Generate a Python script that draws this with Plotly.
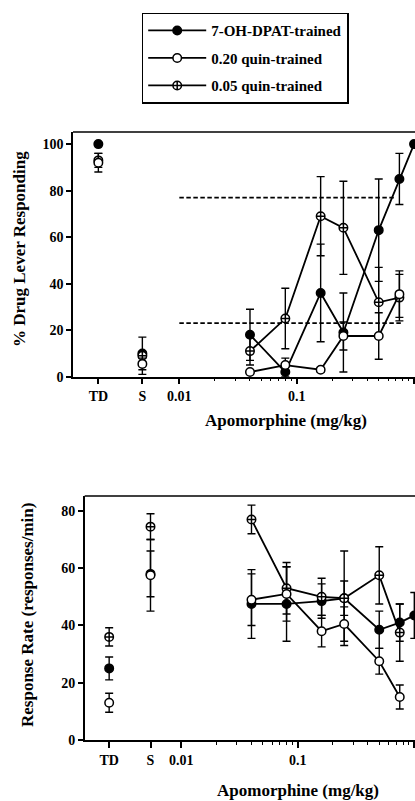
import plotly.graph_objects as go

# ---------------- data ----------------
doses = [0.04, 0.08, 0.16, 0.25, 0.5, 0.75, 1.0]
quin_doses = [0.04, 0.08, 0.16, 0.25, 0.5, 0.75]
control_labels = ["TD", "S"]

# % drug lever responding
dpat_ctrl_pct = [100, 10]
dpat_ctrl_pct_err = [0, 0]
dpat_pct = [18, 2, 36, 19, 63, 85, 100]
dpat_pct_err = [11, 2, 21, 17, 22, 11, 0]

q20_ctrl_pct = [92, 5.5]
q20_ctrl_pct_err = [4, 2.5]
q20_pct = [2, 5, 3, 17.5, 17.5, 35.5]
q20_pct_err = [1, 3, 1, 6, 10, 10]

q05_ctrl_pct = [93, 9]
q05_ctrl_pct_err = [3, 8]
q05_pct = [11, 25, 69, 64, 32, 34]
q05_pct_err = [6, 13, 17, 20, 15, 10]

criteria_pct = [77, 23]
criteria_x = [[0.01, 0.7], [0.01, 0.8]]

# response rate (responses/min)
dpat_ctrl_rate = [25, 58]
dpat_ctrl_rate_err = [4, 8]
dpat_rate = [47.5, 47.5, 48.5, 49.5, 38.5, 41, 43.5]
dpat_rate_err = [12, 13, 6, 6, 6.5, 6.5, 8]

q20_ctrl_rate = [13, 57.5]
q20_ctrl_rate_err = [3.3, 12.5]
q20_rate = [49, 51, 38, 40.5, 27.5, 15]
q20_rate_err = [9, 9.5, 5.5, 6, 4.5, 4.2]

q05_ctrl_rate = [36, 74.5]
q05_ctrl_rate_err = [3.2, 4.5]
q05_rate = [77, 53, 50, 49.5, 57.5, 37.5]
q05_rate_err = [5, 9, 6.5, 16.5, 10, 10]

# ---------------- layout helpers ----------------
W, H = 415, 801
FONT = "Liberation Serif"
# positions of the control (TD, S) columns on each log axis
ctrl_x_top = [10 ** -2.69, 10 ** -2.315]
ctrl_x_bot = [10 ** -2.62, 10 ** -2.265]

series = [
    dict(name="7-OH-DPAT-trained", symbol="circle", color="black", rank=1,
         top=(dpat_ctrl_pct, dpat_ctrl_pct_err, doses, dpat_pct, dpat_pct_err),
         bot=(dpat_ctrl_rate, dpat_ctrl_rate_err, doses, dpat_rate, dpat_rate_err)),
    dict(name="0.05 quin-trained", symbol="circle-cross", color="white", rank=3,
         top=(q05_ctrl_pct, q05_ctrl_pct_err, quin_doses, q05_pct, q05_pct_err),
         bot=(q05_ctrl_rate, q05_ctrl_rate_err, quin_doses, q05_rate, q05_rate_err)),
    dict(name="0.20 quin-trained", symbol="circle", color="white", rank=2,
         top=(q20_ctrl_pct, q20_ctrl_pct_err, quin_doses, q20_pct, q20_pct_err),
         bot=(q20_ctrl_rate, q20_ctrl_rate_err, quin_doses, q20_rate, q20_rate_err)),
]

fig = go.Figure()

# dashed criterion lines (top panel)
for yv, xs in zip(criteria_pct, criteria_x):
    fig.add_trace(go.Scatter(x=xs, y=[yv, yv], mode="lines", showlegend=False,
                             line=dict(color="black", width=1.8, dash="4.5px,2.5px"),
                             xaxis="x", yaxis="y", hoverinfo="skip"))

err_style = dict(type="data", color="black", thickness=1.4, width=4)

for i, s in enumerate(series):
    marker = dict(symbol=s["symbol"], size=8.5, color=s["color"],
                  line=dict(color="black", width=1.5))
    for panel, (xa, ya, cx) in (("top", ("x", "y", ctrl_x_top)),
                                ("bot", ("x2", "y2", ctrl_x_bot))):
        cy, cerr, dx, dy, derr = s[panel]
        # dose-response line
        fig.add_trace(go.Scatter(
            x=dx, y=dy, mode="lines+markers", name=s["name"],
            legendgroup=s["name"], legendrank=s["rank"],
            showlegend=(panel == "top"),
            line=dict(color="black", width=1.8), marker=marker,
            error_y=dict(array=derr, **err_style),
            xaxis=xa, yaxis=ya, cliponaxis=False))
        # control points (TD, S)
        fig.add_trace(go.Scatter(
            x=cx, y=cy, mode="markers", showlegend=False, legendgroup=s["name"],
            marker=marker, error_y=dict(array=cerr, **err_style),
            xaxis=xa, yaxis=ya, cliponaxis=False))

minor_vals = [k * 10 ** e for e in (-2, -1) for k in range(2, 10)]

def xaxis_cfg(domain, rng, ctrl):
    return dict(
        type="log", domain=domain, range=rng, showline=True, linecolor="black",
        linewidth=1.5, ticks="outside", ticklen=6, tickwidth=1.5, tickcolor="black",
        tickmode="array", tickvals=ctrl + [0.01, 0.1, 1],
        ticktext=control_labels + ["0.01", "0.1", "1"],
        minor=dict(tickmode="array", tickvals=minor_vals, ticks="outside",
                   ticklen=3, tickwidth=1.2, tickcolor="black", showgrid=False),
        showgrid=False, zeroline=False, automargin=False,
        tickfont=dict(family=FONT, size=14, color="black", weight="bold"))

def yaxis_cfg(domain, rng, vals, anchor):
    return dict(
        domain=domain, range=rng, anchor=anchor, showline=True, linecolor="black",
        linewidth=1.5, ticks="outside", ticklen=5, tickwidth=1.5, tickcolor="black",
        tickmode="array", tickvals=vals, showgrid=False, zeroline=False,
        automargin=False,
        tickfont=dict(family=FONT, size=14, color="black", weight="bold"))

def py(px):
    return 1 - px / H

title_font = dict(family=FONT, size=17, color="black", weight="bold")

def title(text, x, y, angle=0):
    return dict(text=text, x=x / W, y=py(y), xref="paper", yref="paper",
                xanchor="center", yanchor="middle", textangle=angle,
                showarrow=False, font=title_font)

fig.update_layout(
    width=W, height=H, margin=dict(l=0, r=0, t=0, b=0),
    paper_bgcolor="white", plot_bgcolor="white",
    xaxis=xaxis_cfg([73 / W, 1], [-2.906, 0.008], ctrl_x_top) | dict(anchor="y"),
    yaxis=yaxis_cfg([py(376.7), py(132)], [0, 105.2], [0, 20, 40, 60, 80, 100], "x"),
    xaxis2=xaxis_cfg([84.7 / W, 1], [-2.83, 0.006], ctrl_x_bot) | dict(anchor="y2"),
    yaxis2=yaxis_cfg([py(740), py(496)], [0, 85.2], [0, 20, 40, 60, 80], "x2"),
    legend=dict(x=141.7 / W, y=py(12.7), xanchor="left", yanchor="top",
                bordercolor="black", borderwidth=1.5, bgcolor="white",
                font=dict(family=FONT, size=15, color="black", weight="bold"),
                tracegroupgap=5, itemwidth=58),
    showlegend=True,
    shapes=[
        dict(type="line", xref="x domain", yref="y domain", x0=0, x1=1, y0=1, y1=1,
             line=dict(color="black", width=1.5)),
        dict(type="line", xref="x2 domain", yref="y2 domain", x0=0, x1=1, y0=1, y1=1,
             line=dict(color="black", width=1.5)),
    ],
    annotations=[
        title("% Drug Lever Responding", 20, 249, -90),
        title("Apomorphine (mg/kg)", 286, 421),
        title("Response Rate (responses/min)", 27, 615, -90),
        title("Apomorphine (mg/kg)", 298, 790),
    ],
)

fig.write_html("out.html")
